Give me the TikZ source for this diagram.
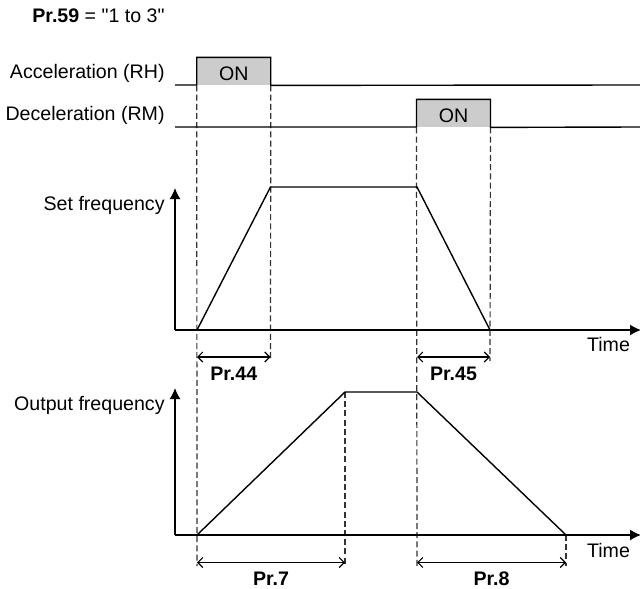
\documentclass[tikz,border=0pt]{standalone}
\usepackage{fontspec}
\setmainfont{Liberation Sans}[Ligatures=TeXOff]
\usetikzlibrary{arrows.meta}
\tikzset{
  sig/.style={line width=0.7pt},
  guide/.style={black!80, line width=0.6pt, dash pattern=on 3pt off 1.6pt},
  dim/.style={line width=0.55pt, {Straight Barb[length=2.5pt,width=5pt]}-{Straight Barb[length=2.5pt,width=5pt]}},
  axis/.style={line width=0.7pt, -{Latex[length=5.5pt,width=5.5pt]}},
  lbl/.style={font=\fontsize{9.8}{12}\selectfont, inner sep=0pt},
  onbox/.style={lbl, fill=black!20, minimum width=36.6pt, minimum height=13.6pt,
    text height=8.8pt, text depth=0pt},
}
\begin{document}
\begin{tikzpicture}[x=0.5pt, y=-0.5pt]
  \useasboundingbox (0,0) rectangle (640,588);
  % signal levels
  \coordinate (rh0) at (175,85);  \coordinate (rh1) at (640,85);
  \coordinate (rm0) at (175,127); \coordinate (rm1) at (640,127);
  % set frequency
  \coordinate (sO) at (175,330); \coordinate (sY) at (175,188); \coordinate (sX) at (641,330);
  \coordinate (s0) at (197,330); \coordinate (s1) at (270.5,187);
  \coordinate (s3) at (417,187); \coordinate (s4) at (490,330);
  % output frequency
  \coordinate (oO) at (175,535); \coordinate (oY) at (175,388); \coordinate (oX) at (641,535);
  \coordinate (o0) at (197,535); \coordinate (o2) at (345,392);
  \coordinate (o3) at (417,392); \coordinate (o5) at (566,535);
  % ends of the guide lines
  \coordinate (g0) at (197,566); \coordinate (g1) at (270.5,361);
  \coordinate (g2) at (345,566); \coordinate (g3) at (417,566);
  \coordinate (g4) at (490,361); \coordinate (g5) at (566,566);
  % dimension arrows
  \coordinate (d44a) at (197,357);   \coordinate (d44b) at (270.5,357);
  \coordinate (d45a) at (417,357);   \coordinate (d45b) at (490,357);
  \coordinate (d7a) at (197,562.5);  \coordinate (d7b) at (345,562.5);
  \coordinate (d8a) at (417,562.5);  \coordinate (d8b) at (566,562.5);

  % ON pulses
  \node[onbox] (on1) at (233.75,71.4) {ON};
  \node[onbox] (on2) at (453.5,113.4) {ON};

  % dashed guides
  \draw[guide] (on1.south west) -- (g0);
  \draw[guide] (on1.south east) -- (g1);
  \draw[guide] (on2.south west) -- (g3);
  \draw[guide] (on2.south east) -- (g4);
  \draw[guide] (o2) -- (g2);
  \draw[guide] (o5) -- (g5);

  % switching signals
  \draw[sig] (rh0) -| (on1.north west) -| (on1.south east) -- (rh1);
  \draw[sig] (rm0) -| (on2.north west) -| (on2.south east) -- (rm1);

  % axes
  \draw[axis] (sO) -- (sY);
  \draw[axis] (sO) -- (sX);
  \draw[axis] (oO) -- (oY);
  \draw[axis] (oO) -- (oX);

  % frequency curves
  \draw[sig] (s0) -- (s1) -- (s3) -- (s4);
  \draw[sig] (o0) -- (o2) -- (o3) -- (o5);

  % times
  \draw[dim] (d44a) -- (d44b);
  \draw[dim] (d45a) -- (d45b);
  \draw[dim] (d7a) -- (d7b);
  \draw[dim] (d8a) -- (d8b);

  % labels
  \node[lbl, anchor=base west] (p59) at (32,22.5) {\textbf{Pr.59} = "1 to 3"};
  \node[lbl, anchor=base east] (rhl) at (165,79) {Acceleration (RH)};
  \node[lbl, anchor=base east] (rml) at (165,120) {Deceleration (RM)};
  \node[lbl, anchor=base east] (sfl) at (165,210) {Set frequency};
  \node[lbl, anchor=base east] (ofl) at (165,410) {Output frequency};
  \node[lbl, anchor=base] (tm1) at (608.5,351.5) {Time};
  \node[lbl, anchor=base] (tm2) at (608.5,557.5) {Time};
  \node[lbl, anchor=base] (p44) at (233.75,380.5) {\textbf{Pr.44}};
  \node[lbl, anchor=base] (p45) at (453.5,380.5) {\textbf{Pr.45}};
  \node[lbl, anchor=base] (p7) at (271,585.5) {\textbf{Pr.7}};
  \node[lbl, anchor=base] (p8) at (491.5,585.5) {\textbf{Pr.8}};
\end{tikzpicture}
\end{document}
